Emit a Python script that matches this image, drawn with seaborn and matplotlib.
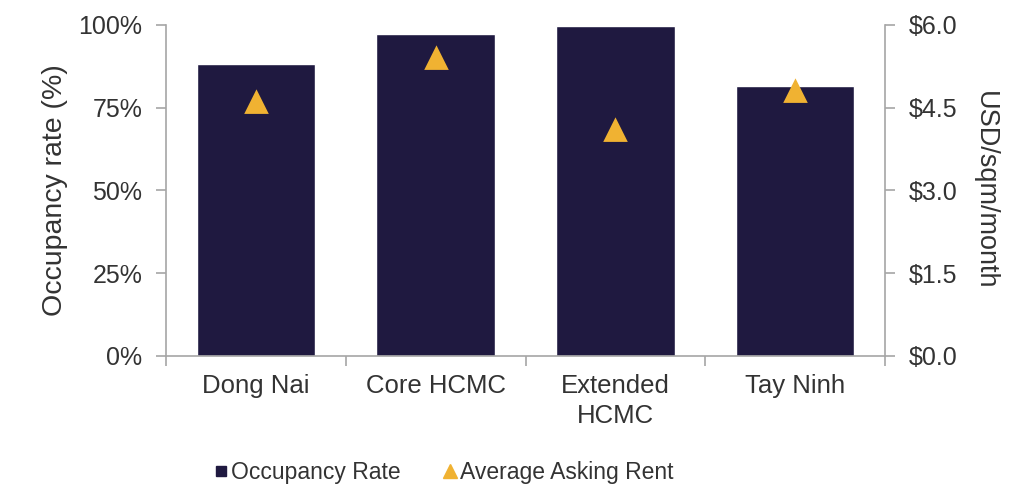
import matplotlib
matplotlib.use("Agg")
import matplotlib.pyplot as plt
from matplotlib.lines import Line2D
from matplotlib.ticker import FixedLocator, FuncFormatter
import seaborn as sns
import pandas as pd

# Data
markets = ["Dong Nai", "Core HCMC", "Extended\nHCMC", "Tay Ninh"]
occupancy_pct = [88.3, 97.2, 99.6, 81.6]
asking_rent_usd = [4.6, 5.4, 4.1, 4.8]

NAVY = "#1F1940"
GOLD = "#F0B232"
GRID_GREY = "#A6A6A6"
TEXT = "#333333"

sns.set_theme(style="white")
plt.rcParams["font.family"] = ["Liberation Sans", "DejaVu Sans"]

df = pd.DataFrame({"market": markets, "occupancy": occupancy_pct, "rent": asking_rent_usd})

fig, ax = plt.subplots(figsize=(10.26, 4.88), dpi=100)
fig.subplots_adjust(left=0.1618, right=0.8626, top=0.9488, bottom=0.2705)

sns.barplot(data=df, x="market", y="occupancy", order=markets, color=NAVY,
            saturation=1, width=0.66, ax=ax)
ax.set_ylim(0, 100)
ax.set_xlim(-0.5, len(markets) - 0.5)
ax.yaxis.set_major_locator(FixedLocator([0, 25, 50, 75, 100]))
ax.yaxis.set_major_formatter(FuncFormatter(lambda v, _: f"{v:.0f}%"))

ax2 = ax.twinx()
sns.pointplot(data=df, x="market", y="rent", order=markets, color=GOLD,
              markers="^", linestyle="none", markersize=14, errorbar=None, ax=ax2)
ax2.set_ylim(0, 6)
ax2.set_xlim(-0.5, len(markets) - 0.5)
ax2.yaxis.set_major_locator(FixedLocator([0, 1.5, 3.0, 4.5, 6.0]))
ax2.yaxis.set_major_formatter(FuncFormatter(lambda v, _: f"${v:.1f}"))

# Spines
for a in (ax, ax2):
    a.spines["top"].set_visible(False)
    for s in ("left", "right", "bottom"):
        a.spines[s].set_color(GRID_GREY)
        a.spines[s].set_linewidth(1.2)
ax.spines["right"].set_visible(False)
ax2.spines["left"].set_visible(False)
ax2.spines["bottom"].set_visible(False)

# Category ticks: labels centered, tick marks at category boundaries
ax.set_xticks(range(len(markets)))
ax.set_xticklabels(markets, linespacing=1.3)
ax.xaxis.set_minor_locator(FixedLocator([i - 0.5 for i in range(len(markets) + 1)]))
ax.tick_params(axis="x", which="major", length=0, pad=13, labelsize=18.5, labelcolor=TEXT)
ax.tick_params(axis="x", which="minor", bottom=True, length=7, width=1.2, color=GRID_GREY)
ax.tick_params(axis="y", left=True, length=7, width=1.2, color=GRID_GREY, pad=10,
               labelsize=18, labelcolor=TEXT)
ax2.tick_params(axis="y", right=True, length=7, width=1.2, color=GRID_GREY, pad=10,
                labelsize=18, labelcolor=TEXT)
ax2.tick_params(axis="x", bottom=False, labelbottom=False)

ax.set_xlabel("")
ax.set_ylabel("Occupancy rate (%)", fontsize=20.5, color=TEXT, labelpad=7.5)
ax2.set_ylabel("USD/sqm/month", fontsize=19.5, color=TEXT, rotation=270,
               labelpad=29.5)
ax2.set_xlabel("")

handles = [
    Line2D([], [], linestyle="none", marker="s", markersize=7.5, color=NAVY),
    Line2D([], [], linestyle="none", marker="^", markersize=10, color=GOLD),
]
fig.legend(handles, ["Occupancy Rate", "Average Asking Rent"], loc="center",
           bbox_to_anchor=(0.432, 0.032), ncol=2, frameon=False,
           prop={"family": "Liberation Sans", "size": 16.5},
           labelcolor=TEXT, handletextpad=0.1, columnspacing=1.8, handlelength=0.7)

fig.savefig("out.png", dpi=100)
